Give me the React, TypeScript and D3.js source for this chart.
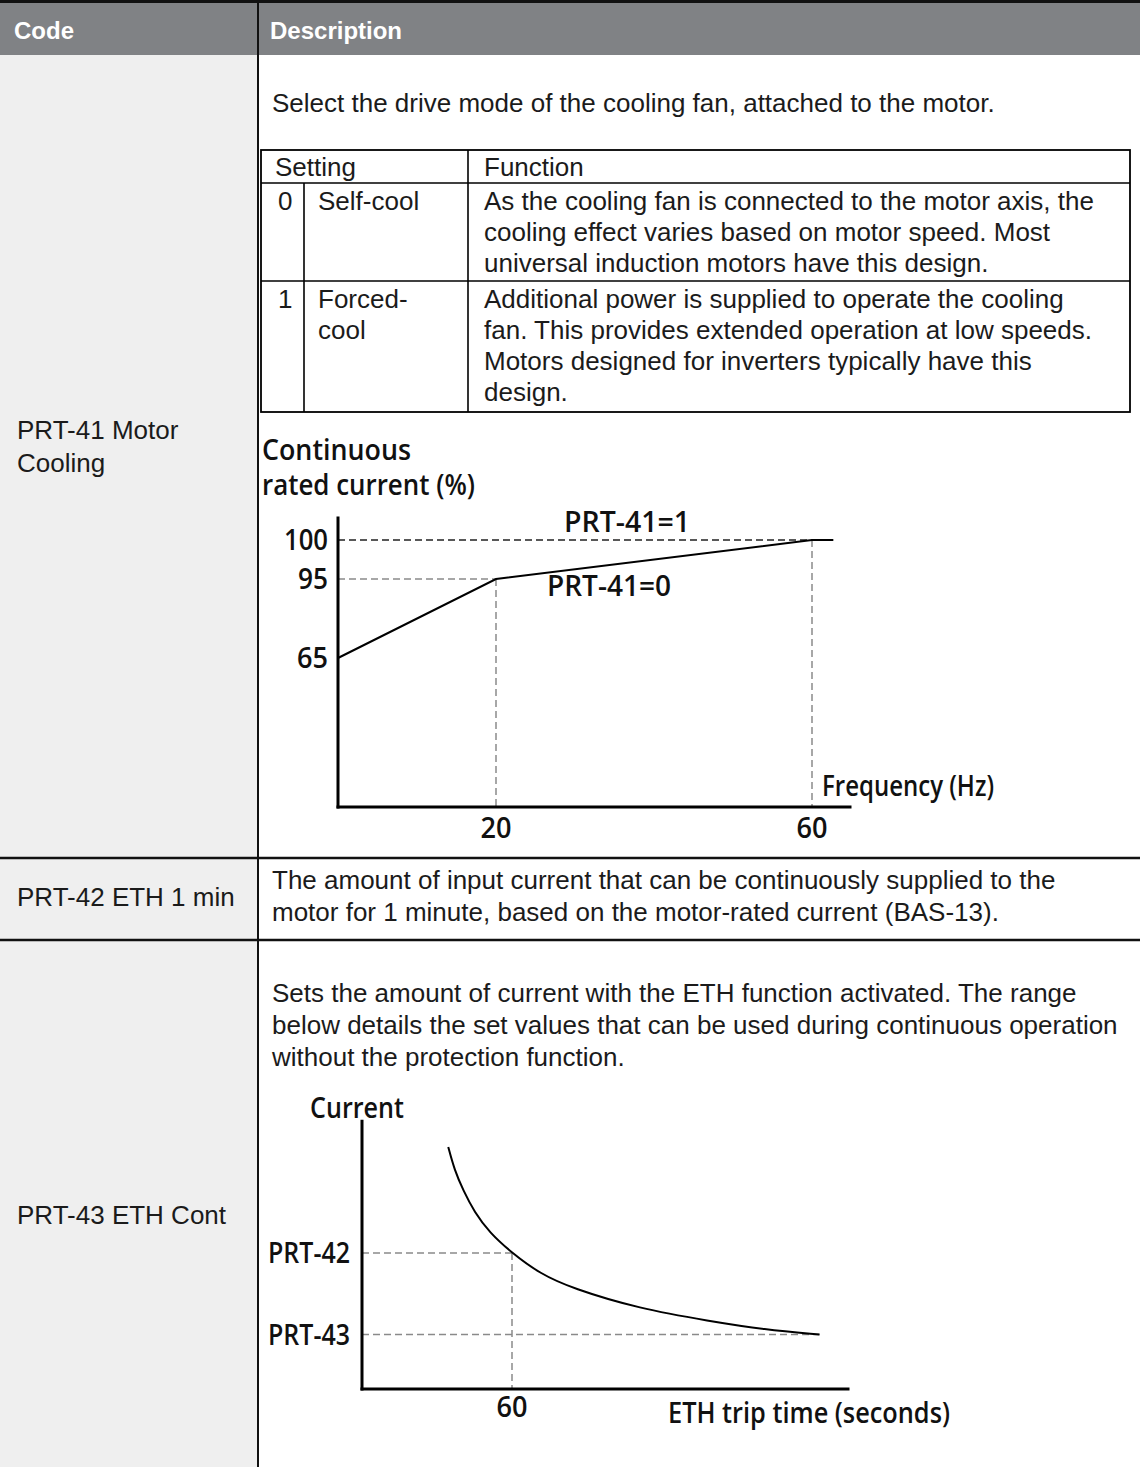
import React from 'react'
import * as d3 from 'd3'

const W = 1140
const H = 1467

// ---- table content
const headerLabels = ['Code', 'Description']
const codeLabels = [['PRT-41 Motor', 'Cooling'], ['PRT-42 ETH 1 min'], ['PRT-43 ETH Cont']]
const coolingIntro = 'Select the drive mode of the cooling fan, attached to the motor.'
const settingHeaders = ['Setting', 'Function']
const settingCodes = ['0', '1']
const settingNames = [['Self-cool'], ['Forced-', 'cool']]
const settingFunctions = [
    ['As the cooling fan is connected to the motor axis, the',
     'cooling effect varies based on motor speed. Most',
     'universal induction motors have this design.'],
    ['Additional power is supplied to operate the cooling',
     'fan. This provides extended operation at low speeds.',
     'Motors designed for inverters typically have this',
     'design.'],
]
const eth1minText = [
    'The amount of input current that can be continuously supplied to the',
    'motor for 1 minute, based on the motor-rated current (BAS-13).',
]
const ethContText = [
    'Sets the amount of current with the ETH function activated. The range',
    'below details the set values that can be used during continuous operation',
    'without the protection function.',
]

// ---- chart 1: continuous rated current vs frequency
const coolTitle = ['Continuous', 'rated current (%)']
const freqTicks = [20, 60]
const ratedTicks = [100, 95, 65]
const selfCoolFreq = [0, 20, 60, 62.7]
const selfCoolRated = [65, 95, 100, 100]
const forcedCoolFreq = [0, 60]
const forcedCoolRated = [100, 100]
const coolSeriesLabels = ['PRT-41=1', 'PRT-41=0']

// ---- chart 2: ETH trip curve (current in % of rated, time in s)
const tripTime = [34.5, 37, 40.5, 45, 51, 60, 71, 84, 111, 139, 161, 183]
const tripCurrent = [189, 180.5, 173, 165, 157.5, 150, 142.5, 137, 129.5, 125, 121.8, 120]
const ethLevelLabels = ['PRT-42', 'PRT-43']
const ethLevelValues = [150, 120]
const ethLevelTimes = [60, 183]
const tripTicks = [60]

const TABLE_FONT = 'Liberation Sans, Arial, sans-serif'
const CHART_FONT = '"Open Sans", "Noto Sans", sans-serif'
const INK = '#1b1b1b'
const GUIDE = '#8a8a8a'

const Txt = ({x, y, size = 26, weight = 400, anchor = 'start', fill = INK, font = TABLE_FONT, len = undefined, children}) => (
    <text x={x} y={y} fontSize={size} fontWeight={weight} textAnchor={anchor}
          fill={fill} fontFamily={font}
          textLength={len} lengthAdjust={len ? 'spacingAndGlyphs' : undefined}>{children}</text>
)

// chart labels: semibold humanist face, squeezed to the narrow look of the original
const ChartTxt = (props) => <Txt size={28} weight={600} font={CHART_FONT} fill="#111" {...props} />

const Lines = ({x, y0, step, lines, size = 26}) => (
    <g>{lines.map((l, i) => <Txt key={i} x={x} y={y0 + i * step} size={size}>{l}</Txt>)}</g>
)

const SettingTable = () => {
    const left = 261, right = 1130, colA = 304, colB = 468
    const rowY = [150, 183, 281, 412]
    return (
        <g>
            <rect x={left} y={rowY[0]} width={right - left} height={rowY[3] - rowY[0]}
                  fill="none" stroke="#000" strokeWidth={1.8} />
            {rowY.slice(1, 3).map(r => <line key={r} x1={left} x2={right} y1={r} y2={r} stroke="#000" strokeWidth={1.6} />)}
            <line x1={colA} x2={colA} y1={rowY[1]} y2={rowY[3]} stroke="#000" strokeWidth={1.6} />
            <line x1={colB} x2={colB} y1={rowY[0]} y2={rowY[3]} stroke="#000" strokeWidth={1.6} />
            <Txt x={275} y={176}>{settingHeaders[0]}</Txt>
            <Txt x={484} y={176}>{settingHeaders[1]}</Txt>
            {settingCodes.map((c, i) => (
                <g key={c}>
                    <Txt x={278} y={rowY[i + 1] + 27}>{c}</Txt>
                    <Lines x={318} y0={rowY[i + 1] + 27} step={31} lines={settingNames[i]} />
                    <Lines x={484} y0={rowY[i + 1] + 27} step={31} lines={settingFunctions[i]} />
                </g>
            ))}
        </g>
    )
}

const CoolingChart = () => {
    const x = d3.scaleLinear().domain([0, 60]).range([338, 812])
    const y = d3.scaleLinear().domain([0, 65, 95, 100]).range([807, 658, 579, 540])
    const line = d3.line().x(d => x(d[0])).y(d => y(d[1]))
    const selfCool = selfCoolFreq.map((f, i) => [f, selfCoolRated[i]])
    const forcedCool = forcedCoolFreq.map((f, i) => [f, forcedCoolRated[i]])
    const dash = '7,4'
    const tickLen = {100: 44, 95: 30, 65: 31}
    return (
        <g>
            <ChartTxt x={262} y={460} len={149}>{coolTitle[0]}</ChartTxt>
            <ChartTxt x={262} y={495} len={213}>{coolTitle[1]}</ChartTxt>
            {/* guides */}
            <line x1={x(0)} x2={x(20)} y1={y(95)} y2={y(95)} stroke={GUIDE} strokeWidth={1.5} strokeDasharray={dash} />
            {freqTicks.map((f, i) => (
                <line key={f} x1={x(f)} x2={x(f)} y1={y(i === 0 ? 95 : 100)} y2={y(0)}
                      stroke={GUIDE} strokeWidth={1.5} strokeDasharray={dash} />
            ))}
            <path d={line(forcedCool)} fill="none" stroke="#222" strokeWidth={1.6} strokeDasharray={dash} />
            <path d={line(selfCool)} fill="none" stroke="#000" strokeWidth={2} />
            {/* axes */}
            <line x1={x(0)} x2={x(0)} y1={y(103)} y2={y(0) + 1.5} stroke="#000" strokeWidth={3} />
            <line x1={x(0) - 1.5} x2={x(65)} y1={y(0)} y2={y(0)} stroke="#000" strokeWidth={3} />
            {ratedTicks.map(v => <ChartTxt key={v} x={x(0) - 10} y={y(v) + 10} anchor="end" len={tickLen[v]}>{v}</ChartTxt>)}
            {freqTicks.map(f => <ChartTxt key={f} x={x(f)} y={y(0) + 31} anchor="middle" len={31}>{f}</ChartTxt>)}
            <ChartTxt x={x(60) + 10} y={y(0) - 11} len={172}>Frequency (Hz)</ChartTxt>
            <ChartTxt x={564} y={532} len={126}>{coolSeriesLabels[0]}</ChartTxt>
            <ChartTxt x={547} y={596} len={124}>{coolSeriesLabels[1]}</ChartTxt>
        </g>
    )
}

const EthChart = () => {
    const x = d3.scaleLinear().domain([0, 60]).range([362, 512])
    const y = d3.scaleLinear().domain([100, 200]).range([1389, 1117])
    const curve = d3.line().x(d => x(d[0])).y(d => y(d[1])).curve(d3.curveBasis)
    const pts = tripTime.map((t, i) => [t, tripCurrent[i]])
    const dash = '7,4'
    return (
        <g>
            <ChartTxt x={310} y={1118} len={94}>Current</ChartTxt>
            {ethLevelValues.map((v, i) => (
                <g key={v}>
                    <line x1={x(0)} x2={x(ethLevelTimes[i])} y1={y(v)} y2={y(v)}
                          stroke={GUIDE} strokeWidth={1.5} strokeDasharray={dash} />
                    <ChartTxt x={x(0) - 12} y={y(v) + 10} anchor="end" len={82}>{ethLevelLabels[i]}</ChartTxt>
                </g>
            ))}
            {tripTicks.map(t => (
                <g key={t}>
                    <line x1={x(t)} x2={x(t)} y1={y(150)} y2={y(100)} stroke={GUIDE} strokeWidth={1.5} strokeDasharray={dash} />
                    <ChartTxt x={x(t)} y={y(100) + 28} anchor="middle" len={31}>{t}</ChartTxt>
                </g>
            ))}
            <path d={curve(pts)} fill="none" stroke="#000" strokeWidth={2} />
            <line x1={x(0)} x2={x(0)} y1={y(199)} y2={y(100) + 1.5} stroke="#000" strokeWidth={3} />
            <line x1={x(0) - 1.5} x2={x(195)} y1={y(100)} y2={y(100)} stroke="#000" strokeWidth={3} />
            <ChartTxt x={668} y={1423} len={282}>ETH trip time (seconds)</ChartTxt>
        </g>
    )
}

export default function App() {
    const codeCol = 257
    const rowLines = [858, 940]
    return (
        <svg width={W} height={H} style={{position: 'absolute', left: 0, top: 0, display: 'block'}}>
            <rect x={0} y={0} width={W} height={H} fill="#fff" />
            <rect x={0} y={55} width={codeCol} height={H - 55} fill="#efefef" />
            <rect x={0} y={0} width={W} height={55} fill="#808285" />
            <rect x={0} y={0} width={W} height={3} fill="#111" />
            <line x1={codeCol + 1} x2={codeCol + 1} y1={3} y2={H} stroke="#111" strokeWidth={2} />
            <Txt x={14} y={39} size={24} weight={700} fill="#fff">{headerLabels[0]}</Txt>
            <Txt x={270} y={39} size={24} weight={700} fill="#fff">{headerLabels[1]}</Txt>
            {rowLines.map(r => <line key={r} x1={0} x2={W} y1={r} y2={r} stroke="#111" strokeWidth={2.5} />)}

            {/* code column */}
            <Lines x={17} y0={439} step={33} lines={codeLabels[0]} />
            <Lines x={17} y0={906} step={33} lines={codeLabels[1]} />
            <Lines x={17} y0={1224} step={33} lines={codeLabels[2]} />

            {/* description column */}
            <Txt x={272} y={112}>{coolingIntro}</Txt>
            <SettingTable />
            <CoolingChart />
            <Lines x={272} y0={889} step={32} lines={eth1minText} />
            <Lines x={272} y0={1002} step={32} lines={ethContText} />
            <EthChart />
        </svg>
    )
}
